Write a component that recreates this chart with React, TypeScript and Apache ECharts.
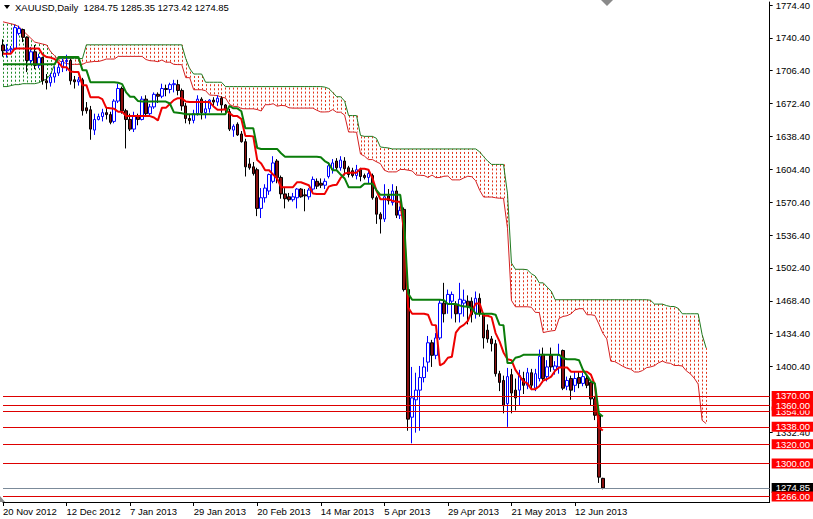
import React, { useEffect, useRef } from 'react';
import * as echarts from 'echarts';

// Date tick labels (one every 16 daily bars)
const TICK_LABELS = ['20 Nov 2012', '12 Dec 2012', '7 Jan 2013', '29 Jan 2013', '20 Feb 2013', '14 Mar 2013', '5 Apr 2013', '29 Apr 2013', '21 May 2013', '12 Jun 2013'];
const TICK_STEP = 16;
const N_SLOTS = 194;

const Y_TICKS = [1774.4, 1740.4, 1706.4, 1672.4, 1638.4, 1604.4, 1570.4, 1536.4, 1502.4, 1468.4, 1434.4, 1400.4, 1332.4];

const LEVELS = [1266, 1300, 1320, 1338, 1354, 1360, 1370];
const LAST_PRICE = 1274.85;

const OPEN = [
  1733,1727,1728,1729,1745,1749,1741,1717,1726,1712,
  1720,1696,1694,1700,1704,1710,1716,1717,1697,1695,
  1697,1668,1666,1645,1656,1659,1663,1661,1654,1675,
  1688,1665,1656,1646,1660,1656,1677,1662,1669,1682,
  1680,1688,1687,1692,1692,1686,1670,1657,1655,1662,
  1677,1663,1667,1676,1674,1678,1671,1664,1645,1651,
  1641,1633,1610,1607,1604,1564,1575,1582,1592,1613,
  1596,1579,1576,1573,1575,1584,1578,1576,1584,1592,
  1590,1588,1597,1604,1613,1606,1613,1606,1603,1598,
  1604,1598,1596,1598,1575,1558,1553,1577,1570,1582,
  1557,1563,1480,1348,1366,1376,1389,1405,1425,1412,
  1430,1466,1465,1468,1465,1455,1466,1468,1468,1455,
  1471,1455,1438,1429,1424,1393,1386,1362,1392,1376,
  1376,1388,1381,1394,1378,1388,1413,1390,1412,1397,
  1400,1417,1380,1388,1381,1389,1383,1388,1384,1367,
  1350,1284.75
];
const HIGH = [
  1739,1734,1732,1754,1753,1750,1742,1731,1733,1724,
  1721,1703,1704,1711,1714,1719,1723,1719,1701,1700,
  1699,1674,1670,1662,1662,1667,1669,1664,1677,1693,
  1690,1667,1662,1664,1662,1680,1681,1672,1684,1684,
  1693,1692,1694,1697,1697,1688,1673,1661,1666,1681,
  1679,1676,1677,1679,1681,1680,1672,1667,1651,1653,
  1644,1636,1616,1612,1606,1585,1589,1600,1618,1615,
  1598,1585,1580,1580,1585,1585,1584,1585,1597,1595,
  1595,1595,1612,1615,1616,1618,1617,1608,1606,1609,
  1606,1600,1604,1600,1577,1560,1589,1584,1589,1587,
  1566,1565,1482,1400,1394,1401,1410,1432,1428,1435,
  1470,1487,1480,1478,1468,1487,1480,1474,1472,1478,
  1476,1456,1444,1432,1428,1396,1391,1399,1398,1388,
  1397,1395,1399,1398,1398,1418,1420,1407,1420,1406,
  1424,1418,1390,1391,1395,1395,1394,1392,1386,1370,
  1352,1285.35
];
const LOW = [
  1721,1720,1725,1728,1743,1736,1705,1713,1708,1709,
  1692,1687,1690,1694,1701,1705,1706,1692,1688,1691,
  1660,1662,1635,1640,1655,1654,1656,1651,1652,1673,
  1662,1626,1644,1643,1650,1655,1660,1659,1667,1673,
  1678,1680,1683,1684,1681,1665,1652,1651,1652,1660,
  1656,1657,1663,1670,1670,1663,1662,1644,1638,1639,
  1632,1597,1604,1598,1556,1554,1570,1578,1590,1590,
  1574,1564,1571,1571,1564,1575,1561,1573,1582,1584,
  1585,1584,1595,1600,1603,1603,1598,1596,1596,1594,
  1592,1594,1590,1573,1548,1538,1550,1568,1567,1554,
  1553,1478,1334,1321,1332,1334,1384,1395,1400,1408,
  1428,1446,1455,1450,1446,1446,1452,1444,1446,1450,
  1452,1419,1425,1416,1390,1375,1352,1338,1352,1355,
  1360,1372,1377,1376,1375,1385,1384,1385,1395,1392,
  1393,1376,1376,1366,1374,1378,1380,1378,1360,1345,
  1280,1273.42
];
const CLOSE = [
  1727,1728,1729,1751,1750,1741,1717,1726,1712,1720,
  1696,1694,1700,1704,1710,1716,1717,1696,1695,1697,
  1665,1665,1646,1656,1659,1663,1661,1653,1675,1688,
  1665,1656,1646,1660,1656,1677,1662,1669,1682,1680,
  1688,1687,1692,1693,1686,1670,1657,1655,1662,1677,
  1663,1667,1676,1674,1678,1671,1667,1646,1649,1640,
  1633,1607,1606,1600,1564,1575,1585,1599,1611,1596,
  1579,1574,1573,1576,1584,1576,1577,1583,1594,1587,
  1588,1592,1608,1611,1606,1614,1605,1599,1598,1604,
  1597,1596,1600,1575,1558,1553,1576,1572,1582,1557,
  1562,1480,1346,1368,1376,1389,1400,1425,1412,1430,
  1466,1455,1475,1475,1455,1470,1469,1462,1454,1471,
  1455,1430,1429,1424,1393,1384,1360,1390,1373,1368,
  1391,1381,1394,1381,1393,1411,1388,1400,1400,1401,
  1412,1378,1386,1376,1388,1383,1390,1381,1367,1350,
  1286,1274.85
];

const TENKAN = [
  1724,1724,1724,1729.5,1729.5,1729.5,1729.5,1729.5,1729.5,1729.5,
  1723,1720.5,1720,1718.5,1714.5,1710,1710,1705.5,1705,1705,
  1691.5,1691.5,1679,1679,1679,1677,1668,1667.5,1667,1664,
  1664,1659.5,1659.5,1659.5,1659.5,1659.5,1659.5,1659.5,1658,1655,
  1668,1668,1672,1676,1678,1678,1674.5,1674,1674,1674,
  1674,1674,1674,1669.5,1666,1666,1666.5,1662.5,1659.5,1659.5,
  1656.5,1639,1639,1638.5,1614,1610.5,1603.5,1603.5,1599,1595,
  1586,1586,1586,1586,1591,1591,1589.5,1588,1579.5,1579,
  1579,1579,1586.5,1588,1588.5,1595.5,1600,1601,1601,1601,
  1605,1605,1604,1595.5,1582.5,1573.5,1573.5,1573.5,1572,1571,
  1571,1539,1461.5,1455,1455,1455,1455,1454,1443.5,1443,
  1401.5,1404,1409.5,1410.5,1435.5,1441,1443.5,1447.5,1457.5,1465.5,
  1465.5,1453,1453,1451.5,1435,1426.5,1415,1408,1407,1397,
  1391,1385,1383,1377,1377,1380,1386,1387.5,1390,1396,
  1399.5,1399.5,1399.5,1395,1395,1395,1395,1395,1392,1381.5,
  1337.5,1334.2
];
const KIJUN = [
  1713,1713,1713,1713,1713,1713,1713,1713,1713,1713,
  1713,1713,1713,1713,1720.5,1720.5,1720.5,1720.5,1720.5,1720.5,
  1707,1707,1694.5,1694.5,1694.5,1694.5,1694.5,1694.5,1694.5,1694,
  1692.5,1684,1679.5,1679.5,1675,1674.5,1674.5,1674.5,1674.5,1674.5,
  1674.5,1674.5,1672.5,1663.5,1663,1662.5,1661.5,1661.5,1661.5,1661.5,
  1661.5,1661.5,1661.5,1661.5,1661.5,1661.5,1661.5,1670,1667.5,1667.5,
  1664.5,1647,1647,1647,1626.5,1625.5,1625.5,1625.5,1625.5,1625.5,
  1621,1617.5,1617.5,1617.5,1617.5,1617.5,1617.5,1617.5,1617.5,1617.5,
  1617,1613,1610.5,1603.5,1603.5,1599,1595,1586,1586,1586,
  1586,1589.5,1589.5,1589.5,1583,1578,1578,1578,1578,1578,
  1578,1548,1476,1469.5,1469.5,1469.5,1469.5,1469.5,1469.5,1469.5,
  1469.5,1469,1465,1465,1465,1463.5,1462.5,1462.5,1460.5,1455,
  1455,1455,1455,1455,1454,1443.5,1443,1404,1404,1409.5,
  1410.5,1412.5,1412.5,1412.5,1412.5,1412.5,1412.5,1412.5,1412.5,1412.5,
  1412.5,1409,1408,1408,1408,1407,1397,1391,1385,1383,
  1352,1348.7
];
const SPAN_A = [
  1757,1756,1755,1754,1752,1748,1744,1740,1736,1735,
  1734,1733,1726,1722,1717,1715,1714,1713,1713,1713,
  1713,1715,1715.5,1716,1716,1717,1718.5,1718.5,1718.5,1721.25,
  1721.25,1721.25,1721.25,1721.25,1721.25,1721.25,1718,1716.75,1716.5,1715.75,
  1717.5,1715.25,1715.25,1713,1712.75,1712.75,1699.25,1699.25,1686.75,1686.75,
  1686.75,1685.75,1681.25,1681,1680.75,1679,1678.25,1671.75,1669.5,1669.5,
  1667.25,1667,1667,1667,1666.25,1664.75,1671.25,1671.25,1672.25,1669.75,
  1670.5,1670.25,1668,1667.75,1667.75,1667.75,1667.75,1667.75,1667.75,1665.5,
  1663.75,1663.75,1664,1666.25,1663.5,1663.5,1660.5,1643,1643,1642.75,
  1620.25,1618,1614.5,1614.5,1612.25,1610.25,1603.5,1601.75,1601.75,1601.75,
  1604.25,1604.25,1603.5,1602.75,1598.5,1598.25,1598,1596,1598.5,1595.75,
  1596,1597.25,1597.5,1593.5,1593.5,1593.5,1595.5,1597.25,1596.75,1592.5,
  1582.75,1575.75,1575.75,1575.75,1575,1574.5,1574.5,1543.5,1468.75,1462.25,
  1462.25,1462.25,1462.25,1461.75,1456.5,1456.25,1435.5,1436.5,1437.25,1437.75,
  1450.25,1452.25,1453,1455,1459,1460.25,1460.25,1454,1454,1453.25,
  1444.5,1435,1429,1406,1405.5,1403.25,1400.75,1398.75,1397.75,1394.75,
  1394.75,1396.25,1399.25,1400,1401.25,1404.25,1406,1404.25,1403.75,1401.5,
  1401.5,1401,1396,1393,1388.5,1382.25,1344.75,1341.45
];
const SPAN_B = [
  1690,1690,1691,1692,1692,1693,1693,1693,1693,1694,
  1696,1698,1703,1713,1719,1719,1719,1719,1719,1719,
  1719,1733.2,1733.2,1733.2,1733.2,1733.2,1733.2,1733.2,1733.2,1733.2,
  1733.2,1733.2,1733.2,1733.2,1733.2,1733.2,1733.2,1733.2,1733.2,1733.2,
  1733.2,1733.2,1733.2,1733.2,1733.2,1733.2,1719,1708.5,1703,1703,
  1703,1694.5,1694.5,1694.5,1694.5,1694.5,1690,1690,1690,1690,
  1690,1690,1690,1690,1690,1690,1690,1690,1690,1690,
  1690,1690,1690,1690,1690,1690,1690,1690,1690,1690,
  1690,1689.5,1688,1684,1679.5,1679.5,1675,1660,1660,1660,
  1639.5,1638.5,1638.5,1638.5,1636.5,1627.5,1627,1626.5,1625.5,1625.5,
  1625.5,1625.5,1625.5,1625.5,1625.5,1625.5,1625.5,1625.5,1625.5,1625.5,
  1625.5,1625.5,1625.5,1625.5,1625.5,1625.5,1625.5,1625.5,1625.5,1625.5,
  1622.5,1617.5,1613,1609.5,1609.5,1609.5,1609.5,1579.5,1507.5,1501,
  1501,1501,1500.5,1496.5,1494,1487,1487,1482.5,1478.5,1469.5,
  1469.5,1469.5,1469.5,1469.5,1469.5,1469.5,1469.5,1469.5,1469.5,1469.5,
  1469.5,1469.5,1469.5,1469.5,1469.5,1469.5,1469.5,1469.5,1469.5,1469.5,
  1469.5,1469.5,1469.5,1469,1465,1465,1465,1463.5,1462.5,1462.5,
  1460.5,1455,1455,1455,1455,1455,1433.5,1419.7
];

const FONT = '"Liberation Sans", Arial, sans-serif';

export default function App() {
  const ref = useRef<HTMLDivElement>(null);

  useEffect(() => {
    if (!ref.current) return;
    const chart = echarts.init(ref.current, null, { renderer: 'svg' });
    const cats = Array.from({ length: N_SLOTS }, (_, i) => String(i));
    const candles = OPEN.map((o, i) => [o, CLOSE[i], LOW[i], HIGH[i]]);
    const cloud = SPAN_A.map((a, i) => [i, a, SPAN_B[i]]);
    const showTick = (idx: number) => idx % TICK_STEP === 0 && idx / TICK_STEP < TICK_LABELS.length;

    chart.setOption({
      animation: false,
      backgroundColor: '#ffffff',
      grid: { left: 0, top: 0, width: 771, height: 502, containLabel: false },
      xAxis: {
        type: 'category',
        data: cats,
        boundaryGap: false,
        axisLine: { show: true, lineStyle: { color: '#000', width: 1 } },
        axisTick: { show: true, interval: showTick, length: 4, lineStyle: { color: '#000' } },
        axisLabel: {
          interval: showTick,
          formatter: (_v: string, idx: number) => TICK_LABELS[Math.round(idx / TICK_STEP)] ?? '',
          align: 'left',
          margin: 4,
          fontSize: 9.5,
          fontFamily: FONT,
          color: '#000',
        },
        splitLine: { show: false },
      },
      yAxis: {
        type: 'value',
        position: 'right',
        min: 1260.28,
        max: 1777.49,
        axisLine: { show: true, lineStyle: { color: '#000', width: 1 } },
        axisTick: { show: true, customValues: Y_TICKS, length: 3, lineStyle: { color: '#000' } },
        axisLabel: {
          customValues: Y_TICKS,
          formatter: (v: number) => v.toFixed(2),
          margin: 6,
          fontSize: 9.5,
          fontFamily: FONT,
          color: '#000',
        },
        splitLine: { show: false },
      },
      graphic: [
        { type: 'polygon', shape: { points: [[4, 5], [10, 5], [7, 9]] }, style: { fill: '#000' }, z: 10 },
        {
          type: 'text', left: 15, top: 2, z: 10,
          style: { text: 'XAUUSD,Daily  1284.75 1285.35 1273.42 1274.85', font: '9.5px "Liberation Sans", Arial, sans-serif', fill: '#000' },
        },
        { type: 'polygon', shape: { points: [[601, 0], [613, 0], [607, 6]] }, style: { fill: '#8a8a8a' }, z: 10 },
        { type: 'polygon', shape: { points: [[0, 496], [5, 502], [0, 502]] }, style: { fill: '#8a8a8a' }, z: 10 },
      ],
      series: [
        {
          type: 'custom',
          name: 'cloud',
          silent: true,
          z: 1,
          clip: true,
          data: cloud,
          encode: { x: 0, y: [1, 2] },
          renderItem: (_params: any, api: any) => {
            const i = api.value(0);
            const a = api.value(1);
            const b = api.value(2);
            const p1 = api.coord([i, a]);
            const p2 = api.coord([i, b]);
            const top = Math.min(p1[1], p2[1]);
            const bot = Math.max(p1[1], p2[1]);
            const x = Math.round(p1[0]) + 0.5;
            return {
              type: 'line',
              shape: { x1: x, y1: top, x2: x, y2: bot },
              style: {
                stroke: b > a ? '#e0341a' : '#1f8a2a',
                lineWidth: 1,
                lineDash: [2, 2],
                lineDashOffset: top % 4,
              },
            };
          },
        },
        {
          type: 'line', name: 'Senkou A', data: SPAN_A, z: 2, symbol: 'none', silent: true,
          lineStyle: { color: '#d42020', width: 1 },
        },
        {
          type: 'line', name: 'Senkou B', data: SPAN_B, z: 2, symbol: 'none', silent: true,
          lineStyle: { color: '#1f7a1f', width: 1 },
          markLine: {
            silent: true,
            symbol: ['none', 'none'],
            animation: false,
            lineStyle: { color: '#dd0000', width: 1, type: 'solid' },
            label: {
              show: true,
              position: 'end',
              distance: 2,
              formatter: (p: any) => Number(p.value).toFixed(2),
              color: '#ffffff',
              backgroundColor: '#ff0000',
              padding: [1, 3, 0, 4],
              fontSize: 9.5,
              lineHeight: 9,
              fontFamily: FONT,
            },
            data: [
              { yAxis: LAST_PRICE, lineStyle: { color: '#7b8a99', width: 1, type: 'solid' }, label: { backgroundColor: '#000000' } },
              ...LEVELS.map((v) => ({ yAxis: v, lineStyle: { color: '#dd0000', width: 1, type: 'solid' } })),
            ],
          },
        },
        {
          type: 'candlestick',
          name: 'XAUUSD',
          data: candles,
          z: 3,
          barWidth: 3,
          silent: true,
          itemStyle: {
            color: '#ffffff',
            color0: '#8b0f0f',
            borderColor: '#0000ff',
            borderColor0: '#000000',
            borderWidth: 1,
          },
        },
        {
          type: 'line', name: 'Tenkan', data: TENKAN, z: 4, symbol: 'none', silent: true,
          lineStyle: { color: '#ee0000', width: 2 },
        },
        {
          type: 'line', name: 'Kijun', data: KIJUN, z: 5, symbol: 'none', silent: true,
          lineStyle: { color: '#0a7d0a', width: 2 },
        },
      ],
    });

    return () => chart.dispose();
  }, []);

  return (
    <div
      ref={ref}
      style={{ position: 'fixed', left: 0, top: 0, width: 813, height: 519, background: '#fff' }}
    />
  );
}
